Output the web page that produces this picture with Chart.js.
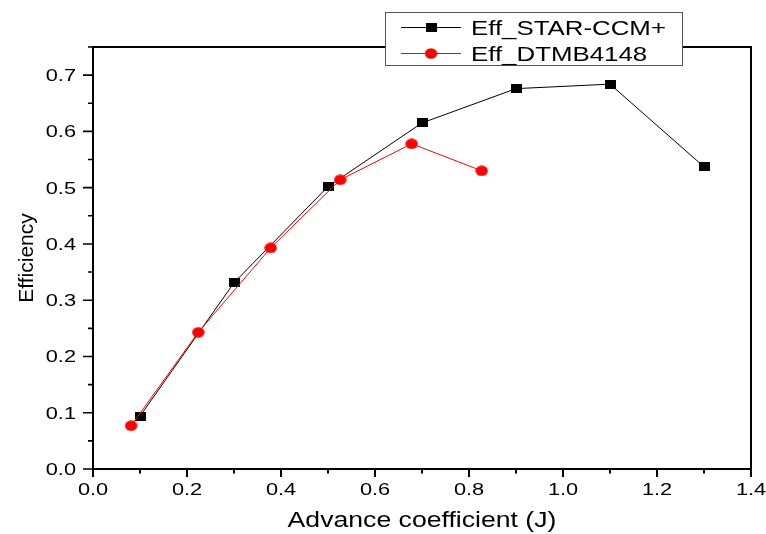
<!DOCTYPE html>
<html>
<head>
<meta charset="utf-8">
<title>Efficiency vs Advance coefficient</title>
<script src="https://cdn.jsdelivr.net/npm/chart.js@4.4.0/dist/chart.umd.min.js"></script>
<style>
  html, body { margin: 0; padding: 0; background: #fff; }
  #wrap { width: 766px; height: 534px; }
</style>
</head>
<body>
<div id="wrap"><canvas id="effChart" width="766" height="534"></canvas></div>
<script>
// === Values ===
const starJ = [0.1, 0.3, 0.5, 0.7, 0.9, 1.1, 1.3];
const starEff = [0.094, 0.331, 0.502, 0.615, 0.676, 0.684, 0.537];
const dtmbJ = [0.081, 0.224, 0.378, 0.526, 0.678, 0.827];
const dtmbEff = [0.077, 0.243, 0.393, 0.514, 0.578, 0.530];

const seriesNames = ["Eff_STAR-CCM+", "Eff_DTMB4148"];
const xTickLabels = ["0.0", "0.2", "0.4", "0.6", "0.8", "1.0", "1.2", "1.4"];
const yTickLabels = ["0.0", "0.1", "0.2", "0.3", "0.4", "0.5", "0.6", "0.7"];
const xTitle = "Advance coefficient (J)";
const yTitle = "Efficiency";

const FONT = '"Liberation Sans", Arial, sans-serif';

// the original figure is a bit stretched sideways, so text and markers are too
function wideText(ctx, text, x, y, sx, align) {
  ctx.save();
  ctx.translate(x, y);
  ctx.scale(sx, 1);
  ctx.textAlign = align;
  ctx.fillText(text, 0, 0);
  ctx.restore();
}

function makeMarker(kind, color) {
  const c = document.createElement("canvas");
  const g = c.getContext("2d");
  if (kind === "square") {
    c.width = 11; c.height = 9;
    g.fillStyle = color;
    g.fillRect(0, 0, 11, 9);
  } else {
    c.width = 13; c.height = 11;
    g.fillStyle = color;
    g.beginPath();
    g.ellipse(6.5, 5.5, 6.2, 5.2, 0, 0, Math.PI * 2);
    g.fill();
  }
  return c;
}

const squareMark = makeMarker("square", "#000000");
const circleMark = makeMarker("circle", "#ff0000");

// === Frame, ticks, labels, titles and legend ===
const originFrame = {
  id: "originFrame",
  afterDraw(chart) {
    const ctx = chart.ctx;
    const { left, right, top, bottom } = chart.chartArea;
    const xs = chart.scales.x;
    const ys = chart.scales.y;

    ctx.save();
    ctx.strokeStyle = "#000";
    ctx.lineWidth = 2;
    ctx.strokeRect(left, top, right - left, bottom - top);

    // major + minor ticks
    const xVals = xTickLabels.map(Number);
    const yVals = yTickLabels.map(Number);
    ctx.beginPath();
    ctx.lineWidth = 2;
    xVals.forEach((v, i) => {
      const px = xs.getPixelForValue(v);
      ctx.moveTo(px, bottom); ctx.lineTo(px, bottom + 8);
      if (i < xVals.length - 1) {
        const mx = xs.getPixelForValue((v + xVals[i + 1]) / 2);
        ctx.moveTo(mx, bottom); ctx.lineTo(mx, bottom + 4.5);
      }
    });
    ctx.stroke();
    ctx.beginPath();
    ctx.lineWidth = 1.6;
    yVals.forEach((v, i) => {
      const py = ys.getPixelForValue(v);
      ctx.moveTo(left - 10, py); ctx.lineTo(left, py);
      const next = i < yVals.length - 1 ? yVals[i + 1] : ys.max + (v - yVals[i - 1]) / 2;
      const my = ys.getPixelForValue((v + next) / 2);
      if ((v + next) / 2 <= ys.max) { ctx.moveTo(left - 5, my); ctx.lineTo(left, my); }
    });
    ctx.stroke();

    // tick labels
    ctx.fillStyle = "#000";
    ctx.font = "17px " + FONT;
    ctx.textBaseline = "alphabetic";
    xTickLabels.forEach((t) => {
      wideText(ctx, t, xs.getPixelForValue(Number(t)), bottom + 26, 1.28, "center");
    });
    yTickLabels.forEach((t) => {
      wideText(ctx, t, left - 17, ys.getPixelForValue(Number(t)) + 6, 1.28, "right");
    });

    // axis titles
    ctx.font = "22px " + FONT;
    wideText(ctx, xTitle, (left + right) / 2, 527, 1.21, "center");
    ctx.save();
    ctx.font = "21px " + FONT;
    ctx.translate(33, (top + bottom) / 2);
    ctx.rotate(-Math.PI / 2);
    ctx.textAlign = "center";
    ctx.fillText(yTitle, 0, 0);
    ctx.restore();

    // legend box
    ctx.fillStyle = "#fff";
    ctx.fillRect(385.5, 12.5, 297, 53);
    ctx.strokeStyle = "#555";
    ctx.lineWidth = 1;
    ctx.strokeRect(385.5, 12.5, 297, 53);
    chart.data.datasets.forEach((ds) => {
      const row = seriesNames.indexOf(ds.label);
      const ry = 27.5 + row * 26;
      ctx.beginPath();
      ctx.strokeStyle = ds.borderColor;
      ctx.lineWidth = 1;
      ctx.moveTo(401, ry); ctx.lineTo(461, ry);
      ctx.stroke();
      const m = ds.pointStyle;
      ctx.drawImage(m, 431 - m.width / 2, ry - m.height / 2);
      ctx.fillStyle = "#000";
      ctx.font = "21px " + FONT;
      wideText(ctx, ds.label, 471, ry + 7.5, 1.23, "left");
    });
    ctx.restore();
  },
};

const ctx = document.getElementById("effChart").getContext("2d");

new Chart(ctx, {
  type: "line",
  data: {
    datasets: [
      {
        label: seriesNames[0],
        data: starJ.map((j, i) => ({ x: j, y: starEff[i] })),
        borderColor: "#000000",
        borderWidth: 1,
        pointStyle: squareMark,
        pointRadius: 6,
        tension: 0,
        order: 1,
      },
      {
        label: seriesNames[1],
        data: dtmbJ.map((j, i) => ({ x: j, y: dtmbEff[i] })),
        borderColor: "#ff0000",
        borderWidth: 1,
        pointStyle: circleMark,
        pointRadius: 6,
        tension: 0,
        order: 0,
      },
    ],
  },
  options: {
    responsive: false,
    animation: false,
    layout: { padding: { top: 47, right: 15, left: 0, bottom: 0 } },
    plugins: {
      legend: { display: false },
      tooltip: { enabled: false },
    },
    scales: {
      x: {
        type: "linear",
        min: 0,
        max: 1.4,
        ticks: { display: false, stepSize: 0.2 },
        grid: { display: false },
        border: { display: false },
        afterFit: (s) => { s.height = 65; },
      },
      y: {
        type: "linear",
        min: 0,
        max: 0.75,
        ticks: { display: false, stepSize: 0.1, includeBounds: false },
        grid: { display: false },
        border: { display: false },
        afterFit: (s) => { s.width = 93; },
      },
    },
  },
  plugins: [originFrame],
});
</script>
</body>
</html>
